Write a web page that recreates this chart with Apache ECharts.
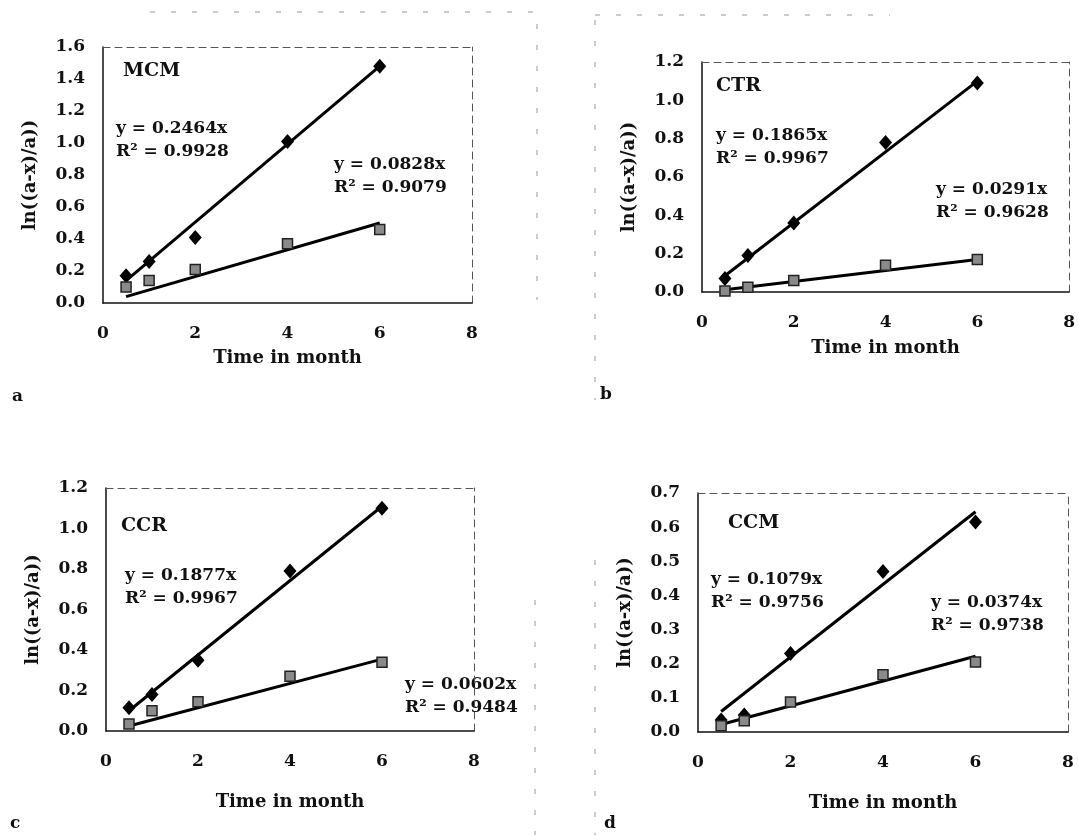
<!DOCTYPE html>
<html>
<head>
<meta charset="utf-8">
<script src="https://cdn.jsdelivr.net/npm/echarts@6/dist/echarts.min.js"></script>
<style>
  html, body { margin: 0; padding: 0; background: #fff; }
  #chart { width: 1078px; height: 835px; }
</style>
</head>
<body>
<div id="chart"></div>
<script>
// sampling times (months) and fitted line ends
const months = [0.5, 1, 2, 4, 6]
const fitX = [0.5, 6]

// a - MCM
const mcmDiamond = [0.17, 0.26, 0.41, 1.01, 1.48]
const mcmSquare = [0.10, 0.14, 0.21, 0.37, 0.46]
const mcmFitDiamond = [0.14, 1.48]
const mcmFitSquare = [0.04, 0.50]

// b - CTR
const ctrDiamond = [0.07, 0.19, 0.36, 0.78, 1.09]
const ctrSquare = [0.005, 0.025, 0.06, 0.14, 0.17]
const ctrFitDiamond = [0.085, 1.10]
const ctrFitSquare = [0.012, 0.17]

// c - CCR
const ccrDiamond = [0.115, 0.18, 0.35, 0.79, 1.10]
const ccrSquare = [0.035, 0.10, 0.145, 0.27, 0.34]
const ccrFitDiamond = [0.10, 1.11]
const ccrFitSquare = [0.025, 0.355]

// d - CCM
const ccmDiamond = [0.035, 0.05, 0.23, 0.47, 0.615]
const ccmSquare = [0.018, 0.033, 0.088, 0.168, 0.205]
const ccmFitDiamond = [0.06, 0.645]
const ccmFitSquare = [0.022, 0.222]

const panels = [
  { tag: 'a', name: 'MCM', max: 1.6, step: 0.2, diamond: mcmDiamond, square: mcmSquare, fitD: mcmFitDiamond, fitS: mcmFitSquare,
    eq1: 'y = 0.2464x\nR² = 0.9928', eq2: 'y = 0.0828x\nR² = 0.9079',
    grid: { left: 103, top: 47, width: 369, height: 256 }, xNameGap: 46,
    namePos: [123, 62], eq1Pos: [116, 117], eq2Pos: [334, 153], tagPos: [12, 388] },
  { tag: 'b', name: 'CTR', max: 1.2, step: 0.2, diamond: ctrDiamond, square: ctrSquare, fitD: ctrFitDiamond, fitS: ctrFitSquare,
    eq1: 'y = 0.1865x\nR² = 0.9967', eq2: 'y = 0.0291x\nR² = 0.9628',
    grid: { left: 702, top: 62, width: 368, height: 230 }, xNameGap: 47,
    namePos: [716, 77], eq1Pos: [716, 124], eq2Pos: [936, 178], tagPos: [600, 386] },
  { tag: 'c', name: 'CCR', max: 1.2, step: 0.2, diamond: ccrDiamond, square: ccrSquare, fitD: ccrFitDiamond, fitS: ccrFitSquare,
    eq1: 'y = 0.1877x\nR² = 0.9967', eq2: 'y = 0.0602x\nR² = 0.9484',
    grid: { left: 106, top: 488, width: 368, height: 243 }, xNameGap: 62,
    namePos: [121, 517], eq1Pos: [125, 564], eq2Pos: [405, 673], tagPos: [10, 815] },
  { tag: 'd', name: 'CCM', max: 0.7, step: 0.1, diamond: ccmDiamond, square: ccmSquare, fitD: ccmFitDiamond, fitS: ccmFitSquare,
    eq1: 'y = 0.1079x\nR² = 0.9756', eq2: 'y = 0.0374x\nR² = 0.9738',
    grid: { left: 698, top: 493, width: 370, height: 239 }, xNameGap: 62,
    namePos: [728, 514], eq1Pos: [711, 568], eq2Pos: [931, 591], tagPos: [604, 815] }
]

const font = 'DejaVu Serif'
const ink = '#111'

const grids = []
const xAxes = []
const yAxes = []
const series = []
const graphics = []

panels.forEach((p, i) => {
  grids.push(Object.assign({ show: false }, p.grid))

  // bottom axis
  xAxes.push({
    gridIndex: i, type: 'value', min: 0, max: 8, interval: 2,
    name: 'Time in month', nameLocation: 'middle', nameGap: p.xNameGap,
    nameTextStyle: { fontFamily: font, fontWeight: 'bold', fontSize: 18, color: ink },
    axisLine: { show: true, onZero: false, lineStyle: { color: ink, width: 1.5 } },
    axisTick: { show: false },
    axisLabel: { margin: 22, fontFamily: font, fontWeight: 'bold', fontSize: 17, color: ink },
    splitLine: { show: false }
  })
  // dashed top border of the plot area
  xAxes.push({
    gridIndex: i, type: 'value', position: 'top', min: 0, max: 8,
    axisLine: { show: true, onZero: false, lineStyle: { color: '#555', width: 1, type: [7, 5] } },
    axisTick: { show: false }, axisLabel: { show: false }, splitLine: { show: false }
  })

  yAxes.push({
    gridIndex: i, type: 'value', min: 0, max: p.max, interval: p.step,
    name: 'ln((a-x)/a))', nameLocation: 'middle', nameGap: 64, nameRotate: 90,
    nameTextStyle: { fontFamily: font, fontWeight: 'bold', fontSize: 18, color: ink },
    axisLine: { show: true, onZero: false, lineStyle: { color: ink, width: 1.5 } },
    axisTick: { show: false },
    axisLabel: { margin: 18, fontFamily: font, fontWeight: 'bold', fontSize: 17, color: ink,
      formatter: v => v.toFixed(1) },
    splitLine: { show: false }
  })
  // dashed right border of the plot area
  yAxes.push({
    gridIndex: i, type: 'value', position: 'right', min: 0, max: p.max,
    axisLine: { show: true, onZero: false, lineStyle: { color: '#555', width: 1, type: [7, 5] } },
    axisTick: { show: false }, axisLabel: { show: false }, splitLine: { show: false }
  })

  const xi = i * 2
  const yi = i * 2

  series.push({
    type: 'line', xAxisIndex: xi, yAxisIndex: yi, symbol: 'none', silent: true,
    data: fitX.map((x, k) => [x, p.fitD[k]]),
    lineStyle: { color: '#000', width: 3 }, z: 2
  })
  series.push({
    type: 'line', xAxisIndex: xi, yAxisIndex: yi, symbol: 'none', silent: true,
    data: fitX.map((x, k) => [x, p.fitS[k]]),
    lineStyle: { color: '#000', width: 3 }, z: 2
  })
  series.push({
    type: 'scatter', xAxisIndex: xi, yAxisIndex: yi, symbol: 'diamond', symbolSize: [13, 15],
    data: months.map((m, k) => [m, p.diamond[k]]),
    itemStyle: { color: '#000', opacity: 1 }, z: 3
  })
  series.push({
    type: 'scatter', xAxisIndex: xi, yAxisIndex: yi, symbol: 'rect', symbolSize: 10,
    data: months.map((m, k) => [m, p.square[k]]),
    itemStyle: { color: '#8a8a8a', borderColor: '#222', borderWidth: 1.5, opacity: 1 }, z: 4
  })

  graphics.push({
    type: 'text', left: p.namePos[0], top: p.namePos[1],
    style: { text: p.name, font: 'bold 19px "' + font + '"', fill: ink }
  })
  graphics.push({
    type: 'text', left: p.eq1Pos[0], top: p.eq1Pos[1],
    style: { text: p.eq1, font: 'bold 17px "' + font + '"', fill: ink, lineHeight: 23 }
  })
  graphics.push({
    type: 'text', left: p.eq2Pos[0], top: p.eq2Pos[1],
    style: { text: p.eq2, font: 'bold 17px "' + font + '"', fill: ink, lineHeight: 23 }
  })
  graphics.push({
    type: 'text', left: p.tagPos[0], top: p.tagPos[1],
    style: { text: p.tag, font: 'bold 17px "' + font + '"', fill: ink }
  })
})

// faint broken frames left over from the scanned page
const frameDash = { stroke: '#999', lineWidth: 1, lineDash: [5, 16] }
const frames = [
  [[150, 12], [537, 12], [537, 300]],
  [[595, 15], [890, 15]],
  [[595, 20], [595, 400]],
  [[535, 600], [535, 835]],
  [[595, 560], [595, 835]]
]
frames.forEach(pts => {
  graphics.push({ type: 'polyline', silent: true, shape: { points: pts }, style: frameDash })
})

const chart = echarts.init(document.getElementById('chart'))
chart.setOption({
  backgroundColor: '#fff',
  animation: false,
  grid: grids,
  xAxis: xAxes,
  yAxis: yAxes,
  series: series,
  graphic: graphics
})
</script>
</body>
</html>
